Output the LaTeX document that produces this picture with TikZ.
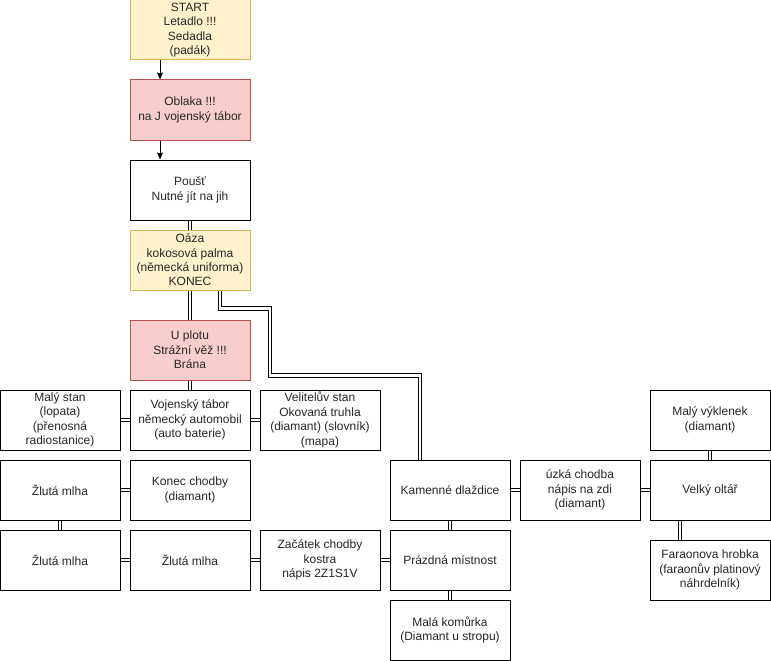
\documentclass[tikz,border=0pt]{standalone}
\usepackage{fontspec}
\setmainfont{Liberation Sans}
\usetikzlibrary{arrows.meta,backgrounds}
\definecolor{yfill}{HTML}{FFF2CC}
\definecolor{ydraw}{HTML}{D6B656}
\definecolor{rfill}{HTML}{F8CECC}
\definecolor{rdraw}{HTML}{B85450}
\tikzset{
  box/.style={draw=black, fill=white, line width=1pt, minimum width=120pt, minimum height=60pt,
    inner sep=0pt, align=center, font=\fontsize{12}{14.4}\selectfont, text=black!85},
  ybox/.style={box, draw=ydraw, fill=yfill},
  rbox/.style={box, draw=rdraw, fill=rfill},
  dbl/.style={draw=black, line width=1pt, double=white, double distance=2.6pt, line join=miter},
  arr/.style={draw=black, line width=1pt, -{Stealth[length=7pt,width=6pt,inset=1pt]}}
}
\begin{document}
\begin{tikzpicture}[x=1pt,y=-1pt]
\useasboundingbox (0,0) rectangle (771,661);
\node[ybox] (start) at (190,30) {START\\Letadlo !!!\\Sedadla\\(padák)};
\node[rbox] (oblaka) at (190,110) {Oblaka !!!\\na J vojenský tábor};
\node[box] (pous) at (190,190) {Poušť\\Nutné jít na jih};
\node[ybox] (oaza) at (190,260) {Oáza\\kokosová palma\\(německá uniforma)\\KONEC};
\node[rbox] (plot) at (190,350) {U plotu\\Strážní věž !!!\\Brána};
\node[box] (malystan) at (60,420) {Malý stan\\(lopata)\\(přenosná\\radiostanice)};
\node[box] (voj) at (190,420) {Vojenský tábor\\německý automobil\\(auto baterie)};
\node[box] (velit) at (320,420) {Velitelův stan\\Okovaná truhla\\(diamant) (slovník)\\(mapa)};
\node[box] (zm1) at (60,490) {Žlutá mlha};
\node[box] (konec) at (190,490) {Konec chodby\\(diamant)};
\node[box] (zm2) at (60,560) {Žlutá mlha};
\node[box] (zm3) at (190,560) {Žlutá mlha};
\node[box] (zac) at (320,560) {Začátek chodby\\kostra\\nápis 2Z1S1V};
\node[box] (kam) at (450,490) {Kamenné dlaždice};
\node[box] (praz) at (450,560) {Prázdná místnost};
\node[box] (mala) at (450,630) {Malá komůrka\\(Diamant u stropu)};
\node[box] (uzka) at (580,490) {úzká chodba\\nápis na zdi\\(diamant)};
\node[box] (vyk) at (710,420) {Malý výklenek\\(diamant)};
\node[box] (oltar) at (710,490) {Velký oltář};
\node[box] (farao) at (710,570) {Faraonova hrobka\\(faraonův platinový\\náhrdelník)};
\begin{pgfonlayer}{background}
\draw[arr] ([xshift=-30pt]start.south) -- ([xshift=-30pt]oblaka.north);
\draw[arr] ([xshift=-30pt]oblaka.south) -- ([xshift=-30pt]pous.north);
\draw[dbl] (pous.south) -- (oaza.north);
\draw[dbl] (oaza.south) -- (plot.north);
\draw[dbl] (plot.south) -- (voj.north);
\draw[dbl] (malystan.east) -- (voj.west);
\draw[dbl] (voj.east) -- (velit.west);
\draw[dbl] (zm1.east) -- (konec.west);
\draw[dbl] (zm1.south) -- (zm2.north);
\draw[dbl] (zm2.east) -- (zm3.west);
\draw[dbl] (zm3.east) -- (zac.west);
\draw[dbl] (zac.east) -- (praz.west);
\draw[dbl] (kam.south) -- (praz.north);
\draw[dbl] (praz.south) -- (mala.north);
\draw[dbl] (kam.east) -- (uzka.west);
\draw[dbl] (uzka.east) -- (oltar.west);
\draw[dbl] (vyk.south) -- (oltar.north);
\draw[dbl] ([xshift=-30pt]oltar.south) -- ([xshift=-30pt]farao.north);
\draw[dbl] ([xshift=30pt]oaza.south) -- ++(0,18) -- ++(50,0) -- ++(0,67) -| ([xshift=-30pt]kam.north);
\end{pgfonlayer}
\end{tikzpicture}
\end{document}
